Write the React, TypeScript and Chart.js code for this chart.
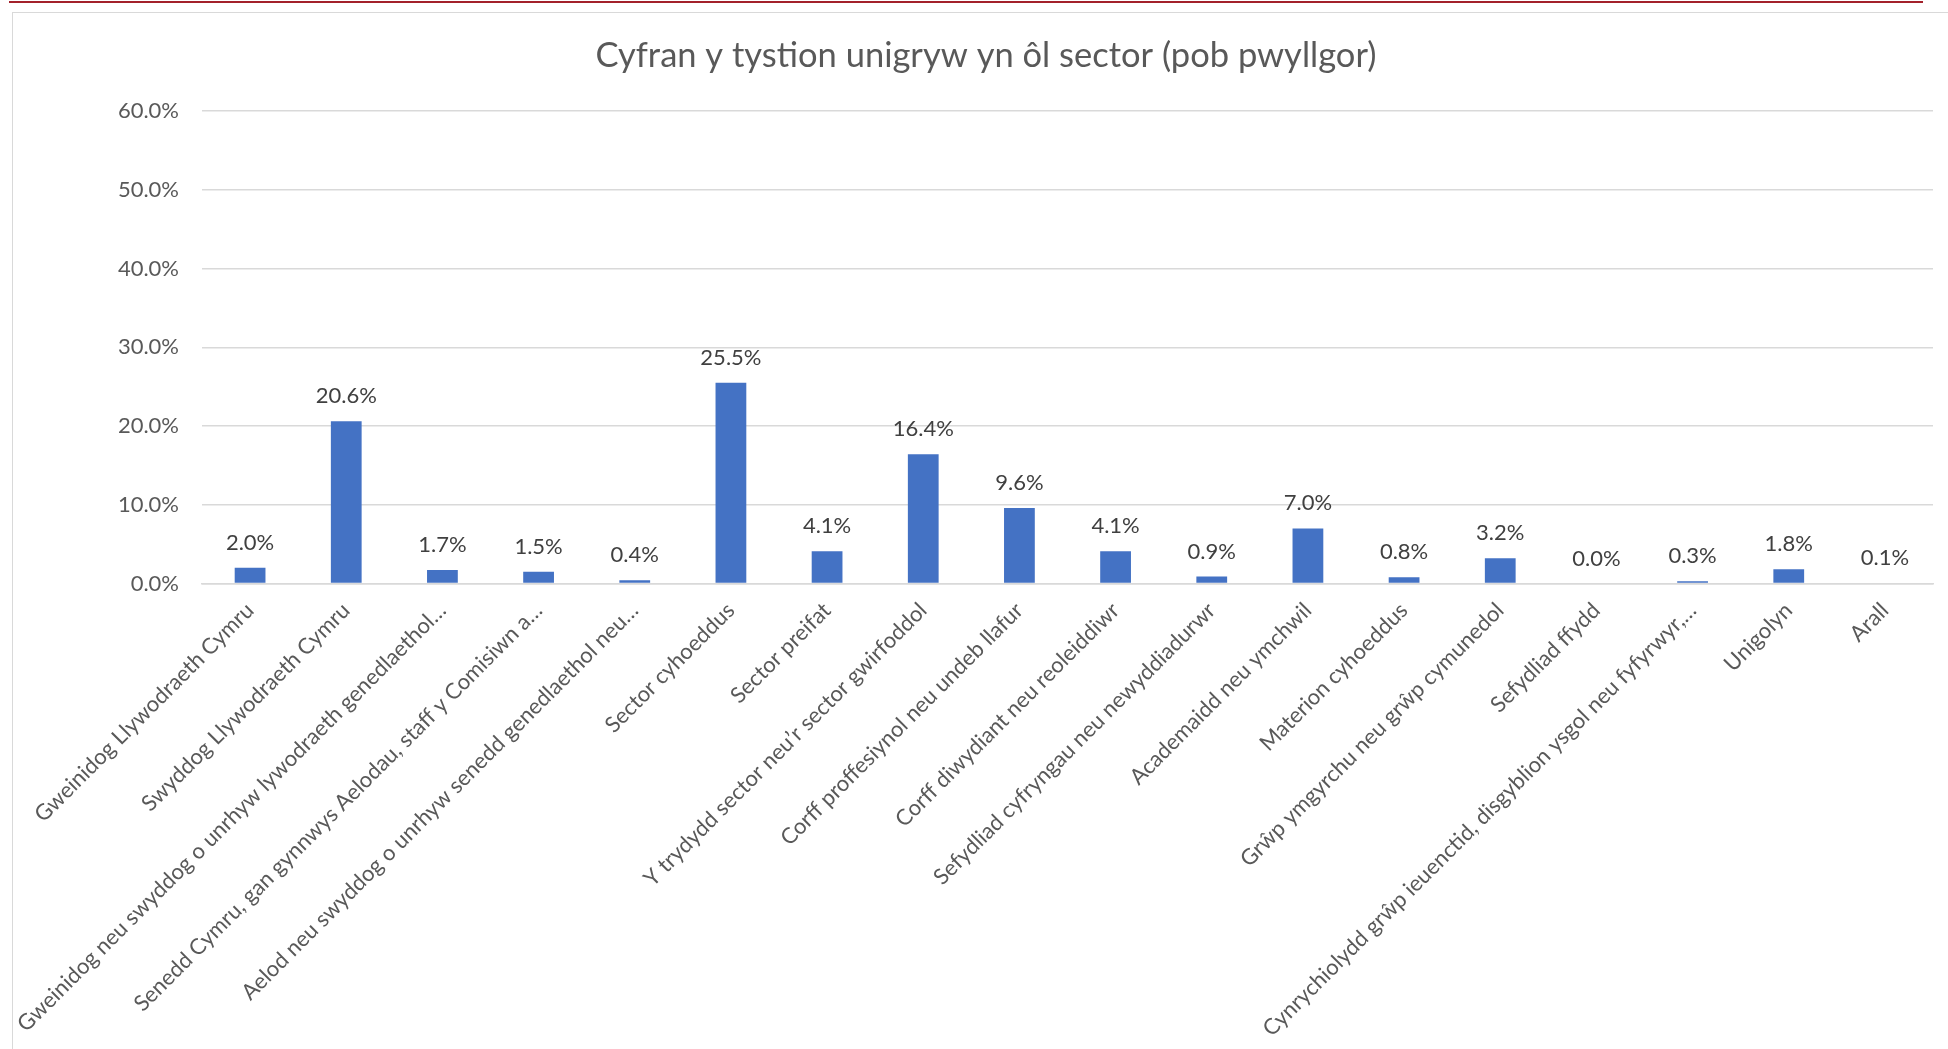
import React, { useEffect, useRef } from "react";
import { Chart, registerables } from "chart.js";

Chart.register(...registerables);

const TITLE = "Cyfran y tystion unigryw yn ôl sector (pob pwyllgor)";

const CATEGORIES: string[] = [
  "Gweinidog Llywodraeth Cymru",
  "Swyddog Llywodraeth Cymru",
  "Gweinidog neu swyddog o unrhyw lywodraeth genedlaethol…",
  "Senedd Cymru, gan gynnwys Aelodau, staff y Comisiwn a…",
  "Aelod neu swyddog o unrhyw senedd genedlaethol neu…",
  "Sector cyhoeddus",
  "Sector preifat",
  "Y trydydd sector neu’r sector gwirfoddol",
  "Corff proffesiynol neu undeb llafur",
  "Corff diwydiant neu reoleiddiwr",
  "Sefydliad cyfryngau neu newyddiadurwr",
  "Academaidd neu ymchwil",
  "Materion cyhoeddus",
  "Grŵp ymgyrchu neu grŵp cymunedol",
  "Sefydliad ffydd",
  "Cynrychiolydd grŵp ieuenctid, disgyblion ysgol neu fyfyrwyr,…",
  "Unigolyn",
  "Arall",
];

const SHARE_PERCENT: number[] = [
  2.0, 20.6, 1.7, 1.5, 0.4, 25.5, 4.1, 16.4, 9.6, 4.1, 0.9, 7.0, 0.8, 3.2, 0.0, 0.3, 1.8, 0.1,
];

const Y_MIN = 0;
const Y_MAX = 60;
const Y_STEP = 10;

const FONT = "Lato, 'Open Sans', sans-serif";

const dataLabelPlugin = {
  id: "barValueLabels",
  afterDatasetsDraw(chart: any) {
    const ctx = chart.ctx;
    const meta = chart.getDatasetMeta(0);
    ctx.save();
    ctx.font = `22px ${FONT}`;
    ctx.fillStyle = "#404040";
    ctx.textAlign = "center";
    ctx.textBaseline = "middle";
    meta.data.forEach((bar: any, i: number) => {
      const v = chart.data.datasets[0].data[i] as number;
      ctx.fillText(v.toFixed(1) + "%", bar.x, bar.y - 25);
    });
    ctx.restore();
  },
};

const titlePlugin = {
  id: "frameTitle",
  afterDraw(chart: any) {
    const ctx = chart.ctx;
    ctx.save();
    ctx.font = `34.5px ${FONT}`;
    ctx.fillStyle = "#595959";
    ctx.textAlign = "center";
    ctx.textBaseline = "middle";
    // centred on the chart frame (which runs from x=12 past the right edge)
    ctx.fillText(TITLE, 986, 56);
    ctx.restore();
  },
};

export default function App() {
  const canvasRef = useRef<HTMLCanvasElement | null>(null);

  useEffect(() => {
    if (!canvasRef.current) return;
    const chart = new Chart(canvasRef.current, {
      type: "bar",
      data: {
        labels: CATEGORIES,
        datasets: [
          {
            data: SHARE_PERCENT,
            backgroundColor: "#4472C4",
            borderWidth: 0,
            categoryPercentage: 1,
            barPercentage: 0.32,
          },
        ],
      },
      options: {
        animation: false,
        responsive: false,
        maintainAspectRatio: false,
        layout: { padding: { top: 111, left: 0, right: 15, bottom: 0 } },
        plugins: {
          legend: { display: false },
          tooltip: { enabled: false },
          title: { display: false },
        },
        scales: {
          x: {
            grid: { display: false, drawTicks: false },
            border: { display: true, color: "#d9d9d9", width: 1.5 },
            ticks: {
              autoSkip: false,
              minRotation: 45,
              maxRotation: 45,
              padding: 14,
              color: "#595959",
              font: { family: FONT, size: 22 },
            },
            afterFit(scale: any) {
              scale.height = 1049 - 583.5;
            },
          },
          y: {
            min: Y_MIN,
            max: Y_MAX,
            grid: { color: "#d9d9d9", lineWidth: 1.5, drawTicks: false },
            border: { display: false },
            ticks: {
              stepSize: Y_STEP,
              padding: 23,
              color: "#595959",
              font: { family: FONT, size: 22 },
              callback: (v: any) => Number(v).toFixed(1) + "%",
            },
            afterFit(scale: any) {
              scale.width = 202;
            },
          },
        },
      },
      plugins: [dataLabelPlugin, titlePlugin],
    });
    return () => chart.destroy();
  }, []);

  return (
    <div
      style={{
        position: "absolute",
        left: 0,
        top: 0,
        width: 1948,
        height: 1049,
        background: "#ffffff",
        overflow: "hidden",
      }}
    >
      <div
        style={{
          position: "absolute",
          left: 9,
          top: 1,
          width: 1914,
          height: 2,
          background: "#A3212B",
        }}
      />
      <div
        style={{
          position: "absolute",
          left: 12,
          top: 12,
          width: 1960,
          height: 1100,
          borderLeft: "1.5px solid #d9d9d9",
          borderTop: "1.5px solid #d9d9d9",
        }}
      />
      <canvas
        ref={canvasRef}
        width={1948}
        height={1049}
        style={{ position: "absolute", left: 0, top: 0, width: 1948, height: 1049 }}
      />
    </div>
  );
}
